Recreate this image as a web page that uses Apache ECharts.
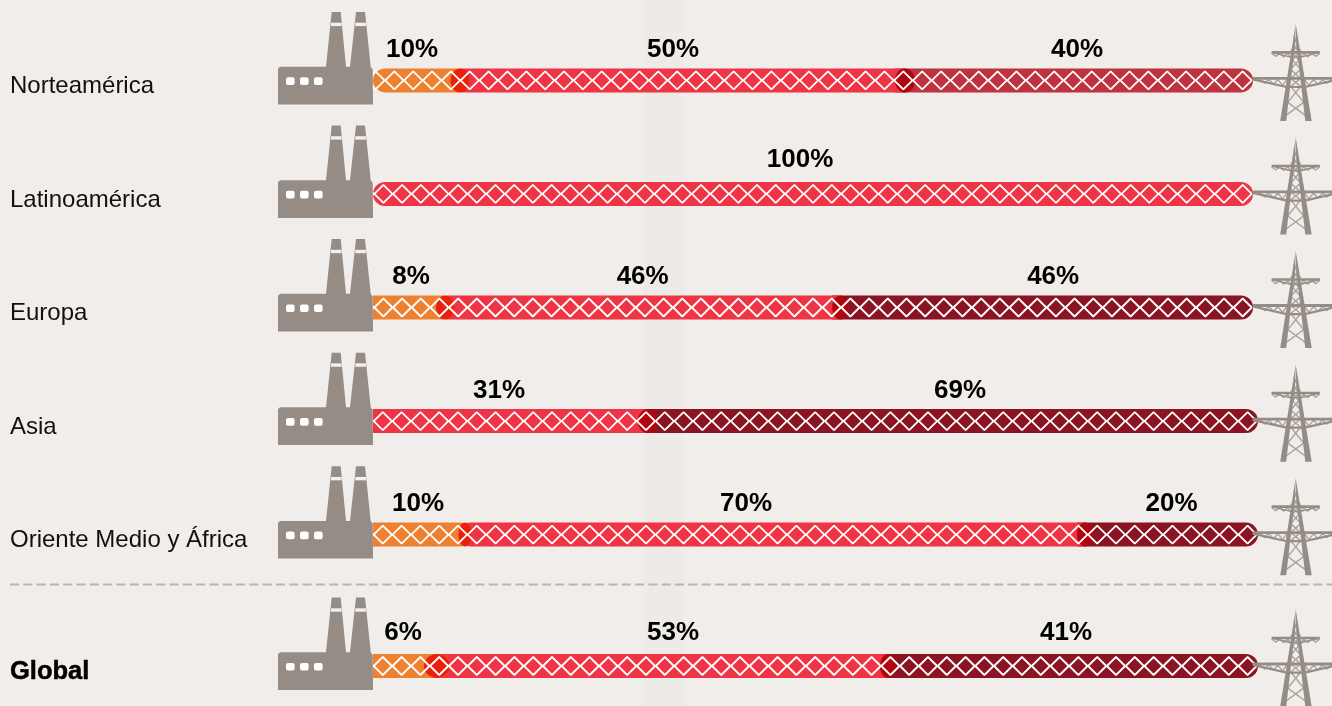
<!DOCTYPE html>
<html>
<head>
<meta charset="utf-8">
<title>Norteamérica</title>
<script src="https://cdn.jsdelivr.net/npm/echarts@6/dist/echarts.min.js"></script>
<style>
  html, body { margin: 0; padding: 0; background: #f0edea; }
  #chart { width: 1332px; height: 706px; }
</style>
</head>
<body>
<div id="chart"></div>
<script>
// regions, the last one sits below the dashed line
const regions = ['Norteamérica', 'Latinoamérica', 'Europa', 'Asia', 'Oriente Medio y África'];
const globalRegion = ['Global'];

// printed percentages
const lowShare = [10, 0, 8, 0, 10, 6];
const midShare = [50, 100, 46, 31, 70, 53];
const highShare = [40, 0, 46, 69, 20, 41];

// where the segments really end in the picture, on the 0-100 axis
const lowEnd = [9.83, 0, 8.14, 0, 10.4, 7.23];
const midEnd = [60.11, 99.44, 52.8, 31.07, 80.45, 58.2];
const barEnd = [99.44, 99.44, 99.44, 100, 100, 100];

// layout tweaks, per row
const lowLens = [9.5, 0, 9, 0, 6.5, 13];
const midLens = [10, 0, 8, 10, 8, 8];
const roundLeft = [1, 1, 0, 0, 0, 0];
const pitch = [18.85, 18.68, 18.68, 18.8, 18.8, 18.8];
const lowNudge = [-4.5, 0, 2, 0, -1, -2];
const midNudge = [-9.5, -13, 0, -11.5, -29, 10.5];
const highNudge = [-2, 0, 6.5, 7, 0, -7];
const labelRise = [31, 34, 31, 30, 31, 33];

const ORANGE = '#ee8130';
const RED = '#ee3445';
const DARK = '#8a1421';
const DARK_FIRST = '#bf323f'; // first row is lighter
const LENS_LOW = '#e8200c';
const LENS_MID = '#b0040e';
const GREY = '#958c85';
const LATTICE = '#aaa39c';
const BAR_H = 24;

function seg(a, b, cy, color, rl, rr) {
  return {
    type: 'rect',
    shape: { x: a, y: cy - BAR_H / 2, width: b - a, height: BAR_H, r: [rl, rr, rr, rl] },
    style: { fill: color }
  };
}

function pct(x, y, v) {
  return {
    type: 'text',
    style: {
      x: x, y: y, text: v + '%', fill: '#000',
      font: 'bold 26px "Liberation Sans", sans-serif',
      align: 'center', verticalAlign: 'middle'
    }
  };
}

function stroke(points, w, color) {
  return { type: 'polyline', shape: { points: points }, style: { stroke: color, fill: null, lineWidth: w } };
}

function factory(x, cy) {
  const bandStyle = { fill: '#f3f0ed' };
  const win = dx => ({ type: 'rect', shape: { x: dx, y: -3.1, width: 8.6, height: 7.7, r: 2 }, style: { fill: '#fff' } });
  return {
    type: 'group', x: x, y: cy,
    children: [
      {
        type: 'polygon',
        shape: {
          points: [[-95, 24], [-95, -11.7], [-93, -13.7], [-47, -13.7], [-41.3, -68.4], [-32.3, -68.4], [-27, -13.7],
            [-23, -13.7], [-17, -68.4], [-8, -68.4], [-2.3, -13.7], [-0.3, -11], [0, 24]]
        },
        style: { fill: GREY }
      },
      { type: 'rect', shape: { x: -42, y: -57.7, width: 10.6, height: 3.4 }, style: bandStyle },
      { type: 'rect', shape: { x: -17.7, y: -57.7, width: 10.6, height: 3.4 }, style: bandStyle },
      win(-87), win(-73), win(-59)
    ]
  };
}

function tower(x, cy) {
  const kids = [];
  // lattice first, the heavy members go over it
  [
    [[-5, -31], [3, -20], [-5, -11], [5, -2], [-5, 6], [8, 22], [-11, 36]],
    [[5, -31], [-3, -20], [5, -11], [-5, -2], [5, 6], [-8, 22], [11, 36]],
    [[-2, -44], [2, -36], [-3, -28]],
    [[2, -44], [-2, -36], [3, -28]],
    [[-24, -27], [-20, -24], [-16, -27], [-12, -23.5], [-8, -27], [-5, -23]],
    [[24, -27], [20, -24], [16, -27], [12, -23.5], [8, -27], [5, -23]],
    [[-36, -1], [-31, 3], [-27, -1], [-22, 4], [-18, -1], [-13, 5], [-9, -1]],
    [[36, -1], [31, 3], [27, -1], [22, 4], [18, -1], [13, 5], [9, -1]]
  ].forEach(p => kids.push(stroke(p, 1.4, LATTICE)));
  kids.push(
    { type: 'polygon', shape: { points: [[0, -56.4], [-15.5, 40.6], [-9.5, 40.6], [-0.6, -36]] }, style: { fill: GREY } },
    { type: 'polygon', shape: { points: [[0, -56.4], [16, 40.6], [9.6, 40.6], [0.6, -36]] }, style: { fill: GREY } },
    stroke([[-24, -28], [24, -28]], 2.6, GREY),
    stroke([[-24, -28], [-6, -23.5], [6, -23.5], [24, -28]], 1.4, GREY),
    stroke([[-43, -2], [43, -2]], 2.8, GREY),
    stroke([[-43, -1], [-9, 6.6], [9, 6.6], [43, -1]], 2.2, GREY)
  );
  return { type: 'group', x: x, y: cy, children: kids };
}

function renderRow(params, api) {
  const row = params.seriesIndex * 5 + params.dataIndex;
  const cat = api.value(0);
  const cy = api.coord([0, cat])[1];
  const px = v => api.coord([v, cat])[0];
  const x0 = px(0), xEnd = px(api.value(3));
  const hasLow = lowShare[row] > 0, hasHigh = highShare[row] > 0;
  const xLow = px(api.value(1)), xMid = px(api.value(2));
  const R = BAR_H / 2;
  const rLeft = roundLeft[row] ? R : 0;
  const kids = [];

  if (hasHigh) kids.push(seg(xMid - midLens[row], xEnd, cy, row === 0 ? DARK_FIRST : DARK, 0, R));
  kids.push(seg(hasLow ? xLow - lowLens[row] : x0, hasHigh ? xMid + midLens[row] : xEnd, cy, RED, hasLow ? R : rLeft, R));
  if (hasLow) kids.push(seg(x0, xLow + lowLens[row], cy, ORANGE, rLeft, R));

  if (hasLow) {
    kids.push({ type: 'ellipse', shape: { cx: xLow, cy: cy, rx: lowLens[row], ry: R }, style: { fill: LENS_LOW } });
  }
  if (hasHigh) {
    kids.push({ type: 'ellipse', shape: { cx: xMid, cy: cy, rx: midLens[row], ry: R }, style: { fill: LENS_MID } });
  }

  // chain of white diamonds along the pipe, the factory hides any overrun on the left
  const p = pitch[row];
  for (let x = xEnd - 1; x > x0; x -= p) {
    kids.push({
      type: 'polygon',
      shape: { points: [[x - 0.3, cy], [x - p / 2, cy - 9], [x - p + 0.3, cy], [x - p / 2, cy + 9]] },
      style: { fill: null, stroke: '#fff', lineWidth: 1.8, lineJoin: 'bevel' }
    });
  }

  kids.push(factory(x0, cy), tower(px(100) + 37.7, cy));

  const lift = cy - labelRise[row];
  const startMid = hasLow ? xLow : x0;
  const endMid = hasHigh ? xMid : xEnd;
  if (hasLow) kids.push(pct((x0 + xLow) / 2 + lowNudge[row], lift, lowShare[row]));
  kids.push(pct((startMid + endMid) / 2 + midNudge[row], lift, midShare[row]));
  if (hasHigh) kids.push(pct((xMid + xEnd) / 2 + highNudge[row], lift, highShare[row]));

  return { type: 'group', children: kids };
}

function rowData(from, to) {
  const out = [];
  for (let i = from; i < to; i++) {
    out.push([i - from, lowEnd[i], midEnd[i], barEnd[i]]);
  }
  return out;
}

function valueAxis(index) {
  return { type: 'value', gridIndex: index, min: 0, max: 100, show: false };
}

function regionAxis(index, names, name) {
  return {
    type: 'category',
    gridIndex: index,
    data: names,
    inverse: true,
    axisLine: { show: false },
    axisTick: { show: false },
    axisLabel: {
      margin: 363,
      align: 'left',
      formatter: '{' + name + '|{value}}',
      rich: {
        plain: {
          color: '#111', fontFamily: '"Liberation Sans", sans-serif', fontSize: 24,
          padding: [12, 0, 0, 0]
        },
        heavy: {
          color: '#000', fontFamily: '"Liberation Sans", sans-serif', fontSize: 25.5, fontWeight: 'bold',
          textBorderColor: '#000', textBorderWidth: 0.5,
          padding: [12, 0, 0, 0]
        }
      }
    }
  };
}

const chart = echarts.init(document.getElementById('chart'), null, { renderer: 'canvas' });
chart.setOption({
  animation: false,
  backgroundColor: '#f0edea',
  grid: [
    { left: 373, width: 885, top: 23.6, height: 567.8 },
    { left: 373, width: 885, top: 626, height: 80 }
  ],
  xAxis: [valueAxis(0), valueAxis(1)],
  yAxis: [regionAxis(0, regions, 'plain'), regionAxis(1, globalRegion, 'heavy')],
  graphic: [
    { type: 'rect', z: 0, shape: { x: 645, y: 0, width: 38, height: 706 }, style: { fill: '#edeae7' } },
    {
      type: 'line', z: 0,
      shape: { x1: 10, y1: 584.5, x2: 1332, y2: 584.5 },
      style: { stroke: '#bdb3ab', lineWidth: 2, lineDash: [9, 4.3] }
    }
  ],
  series: [
    {
      type: 'custom', xAxisIndex: 0, yAxisIndex: 0, clip: false,
      renderItem: renderRow, data: rowData(0, 5), encode: { x: 1, y: 0 }
    },
    {
      type: 'custom', xAxisIndex: 1, yAxisIndex: 1, clip: false,
      renderItem: renderRow, data: rowData(5, 6), encode: { x: 1, y: 0 }
    }
  ]
});
</script>
</body>
</html>
